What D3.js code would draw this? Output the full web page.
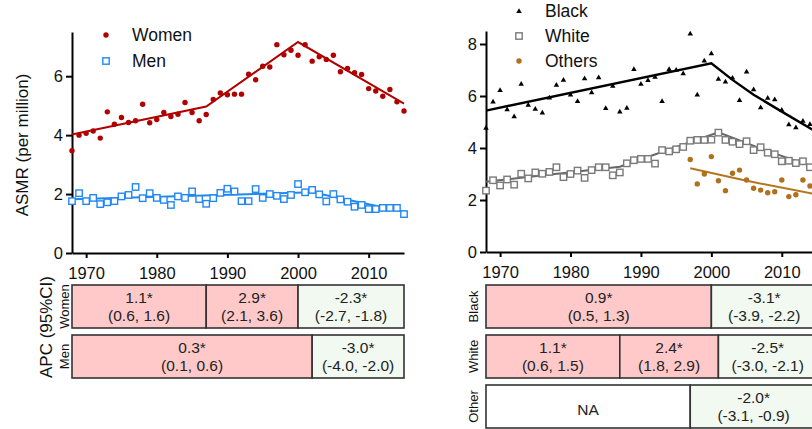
<!DOCTYPE html>
<html>
<head>
<meta charset="utf-8">
<script src="https://cdn.jsdelivr.net/npm/d3@7"></script>
<style>
  body{margin:0;background:#fff;}
  svg{display:block;font-family:"Liberation Sans",Arial,sans-serif;}
</style>
</head>
<body>
<div id="chart"></div>
<script>
// years on the x axis
var years = d3.range(1968, 2016);
var xTicks = [1970, 1980, 1990, 2000, 2010];

// left panel: sex
var women = [3.47,4.00,4.06,4.14,3.90,4.79,4.37,4.60,4.43,4.49,
             5.05,4.42,4.53,4.77,4.63,4.71,5.11,4.77,4.49,4.70,
             5.21,5.43,5.37,5.39,5.39,6.07,5.88,6.34,6.31,7.07,
             6.73,6.88,6.71,7.07,6.51,6.66,6.57,6.71,6.15,6.26,
             6.12,6.06,5.58,5.50,5.32,5.55,5.13,4.82];
var men = [1.76,2.03,1.76,1.87,1.66,1.72,1.76,1.92,1.97,2.24,
           1.86,2.03,1.87,1.80,1.63,1.92,1.87,2.09,1.83,1.67,
           1.86,2.04,2.18,2.09,1.76,1.76,2.17,1.87,2.00,1.94,
           1.83,1.97,2.34,2.06,2.14,1.99,1.75,2.00,1.82,1.74,
           1.57,1.63,1.49,1.49,1.53,1.53,1.53,1.32];
var womenFit = [[1968,4.02],[1987,4.97],[2000,7.16],[2015,5.07]];
var menFit = [[1968,1.82],[2002,2.06],[2015,1.40]];

// right panel: race
var black = [4.78,5.79,6.23,5.49,5.22,6.47,5.67,5.51,5.37,5.95,
             6.44,6.63,6.06,5.81,6.69,6.15,6.72,5.54,6.40,5.41,
             5.55,7.04,6.47,6.62,6.74,5.81,7.04,7.01,6.88,8.41,
             6.06,7.37,7.65,6.67,6.56,6.71,5.85,6.95,6.26,5.57,
             5.94,5.88,5.47,4.92,4.80,5.05,4.93,4.60];
var white = [2.36,2.76,2.56,2.79,2.59,3.01,2.83,3.06,3.01,3.08,
             3.26,2.88,3.00,3.13,2.85,3.15,3.26,3.26,2.95,3.06,
             3.41,3.53,3.58,3.58,3.40,3.92,3.87,3.95,4.04,4.28,
             4.31,4.31,4.32,4.59,4.31,4.24,4.15,4.26,3.92,4.03,
             3.82,3.76,3.49,3.51,3.42,3.49,3.26,3.20];
var otherYears = d3.range(1997, 2016);
var others = [3.56,2.62,3.00,3.67,2.74,2.36,3.03,3.15,2.77,2.45,
              2.38,2.28,2.32,2.77,2.13,2.20,2.77,2.54,2.40];
var blackFit = [[1968,5.44],[2000,7.26],[2003,6.62],[2006,6.05],[2010,5.40],[2015,4.60]];
var whiteFit = [[1968,2.70],[1987,3.28],[2001,4.60],[2008,3.88],[2015,3.23]];
var othersFit = [[1997,3.22],[2005,2.74],[2015,2.21]];

// APC tables: [from, to, estimate, CI, kind]
var womenApc = [[1968,1987,'1.1*','(0.6, 1.6)','up'],[1987,2000,'2.9*','(2.1, 3.6)','up'],[2000,2015,'-2.3*','(-2.7, -1.8)','down']];
var menApc = [[1968,2002,'0.3*','(0.1, 0.6)','up'],[2002,2015,'-3.0*','(-4.0, -2.0)','down']];
var blackApc = [[1968,2000,'0.9*','(0.5, 1.3)','up'],[2000,2015,'-3.1*','(-3.9, -2.2)','down']];
var whiteApc = [[1968,1987,'1.1*','(0.6, 1.5)','up'],[1987,2001,'2.4*','(1.8, 2.9)','up'],[2001,2015,'-2.5*','(-3.0, -2.1)','down']];
var otherApc = [[1968,1997,'NA','','na'],[1997,2015,'-2.0*','(-3.1, -0.9)','down']];

var cellFill = {up:'#ffc9c9', down:'#f1f9f0', na:'#ffffff'};

var svg = d3.select('#chart').append('svg')
  .attr('width', 812).attr('height', 429);

//marker drawers
function dot(g, cx, cy, color){
  g.append('circle').attr('cx',cx).attr('cy',cy).attr('r',2.7).attr('fill',color);
}
function square(g, cx, cy, color){
  g.append('rect').attr('x',cx-3.2).attr('y',cy-3.2).attr('width',6.4).attr('height',6.4)
   .attr('fill','#fff').attr('stroke',color).attr('stroke-width',1.4);
}
function tri(g, cx, cy, color){
  g.append('path').attr('d', d3.symbol(d3.symbolTriangle, 13)())
   .attr('transform','translate('+cx+','+(cy+0.5)+')').attr('fill',color);
}

function drawPanel(p){
  var x = d3.scaleLinear().domain([1968,2015]).range([p.left, p.right]);
  var y = d3.scaleLinear().domain([0,p.yMax]).range([p.bottom, p.top]);

  //axes
  var xa = svg.append('g').attr('transform','translate(0,'+p.bottom+')')
    .call(d3.axisBottom(x).tickValues(xTicks).tickFormat(d3.format('d'))
          .tickSize(5).tickPadding(9).tickSizeOuter(0));
  var ya = svg.append('g').attr('transform','translate('+p.left+',0)')
    .call(d3.axisLeft(y).tickValues(p.yTicks).tickSize(6).tickPadding(3).tickSizeOuter(0));
  [xa, ya].forEach(function(a){
    a.selectAll('path,line').attr('stroke','#000').attr('stroke-width',2);
    a.selectAll('text').attr('fill','#111').style('font-size','16.5px');
  });

  if(p.yLabel){
    svg.append('text').attr('transform','translate(22,145) rotate(-90)')
      .attr('text-anchor','middle').attr('dy','0.35em')
      .style('font-size','17px').attr('fill','#111').text(p.yLabel);
  }

  var line = d3.line().x(function(d){return x(d[0]);}).y(function(d){return y(d[1]);});

  //series: fit line, then points
  p.series.forEach(function(s){
    svg.append('path').datum(s.fit).attr('d',line).attr('fill','none')
      .attr('stroke',s.lineColor).attr('stroke-width',s.lineWidth);
    var g = svg.append('g');
    s.values.forEach(function(v,i){ s.marker(g, x(s.years[i]), y(v), s.color); });
  });

  //legend
  p.series.forEach(function(s,i){
    var ly = p.legendY[i];
    s.marker(svg, p.legendX, ly, s.color);
    svg.append('text').attr('x',p.legendX+26).attr('y',ly).attr('dy','0.35em')
      .style('font-size','17.5px').attr('fill','#111').text(s.name);
  });

  //APC tables
  p.rows.forEach(function(r,i){
    var top = 285 + i*50, h = 43;
    var g = svg.append('g');
    r.cells.forEach(function(c){
      var x0 = x(c[0]), x1 = x(c[1]);
      g.append('rect').attr('x',x0).attr('y',top).attr('width',x1-x0).attr('height',h)
        .attr('fill',cellFill[c[4]]).attr('stroke','#333').attr('stroke-width',1.6);
      var cx = (x0+x1)/2;
      if(c[3]){
        g.append('text').attr('x',cx).attr('y',top+13).attr('dy','0.35em').attr('text-anchor','middle')
          .style('font-size','15.5px').attr('fill','#222').text(c[2]);
        g.append('text').attr('x',cx).attr('y',top+31).attr('dy','0.35em').attr('text-anchor','middle')
          .style('font-size','15.5px').attr('fill','#222').text(c[3]);
      } else {
        g.append('text').attr('x',cx).attr('y',top+h/2+3).attr('dy','0.35em').attr('text-anchor','middle')
          .style('font-size','15.5px').attr('fill','#222').text(c[2]);
      }
    });
    svg.append('text').attr('transform','translate('+p.rowLabelX+','+(top+h/2)+') rotate(-90)')
      .attr('text-anchor','middle').attr('dy','0.35em')
      .style('font-size','13px').attr('fill','#111').text(r.label);
  });
}

drawPanel({
  left:72, right:404, top:32, bottom:253, yMax:7.5, yTicks:[0,2,4,6],
  yLabel:'ASMR (per million)',
  legendX:106, legendY:[35,61], rowLabelX:64,
  series:[
    {name:'Women', years:years, values:women, fit:womenFit, color:'#b00000', lineColor:'#b00000', lineWidth:2, marker:dot},
    {name:'Men', years:years, values:men, fit:menFit, color:'#2288f0', lineColor:'#1f88f0', lineWidth:2, marker:square}
  ],
  rows:[{label:'Women', cells:womenApc},{label:'Men', cells:menApc}]
});

drawPanel({
  left:486, right:817, top:31, bottom:252, yMax:8.5, yTicks:[0,2,4,6,8],
  legendX:519, legendY:[11,36,61], rowLabelX:473,
  series:[
    {name:'Black', years:years, values:black, fit:blackFit, color:'#000', lineColor:'#000', lineWidth:2.4, marker:tri},
    {name:'White', years:years, values:white, fit:whiteFit, color:'#7a7a7a', lineColor:'#666', lineWidth:2, marker:square},
    {name:'Others', years:otherYears, values:others, fit:othersFit, color:'#b0701c', lineColor:'#b3761f', lineWidth:2, marker:dot}
  ],
  rows:[{label:'Black', cells:blackApc},{label:'White', cells:whiteApc},{label:'Other', cells:otherApc}]
});

// shared side label of the left tables
svg.append('text').attr('transform','translate(46,327) rotate(-90)')
  .attr('text-anchor','middle').attr('dy','0.35em')
  .style('font-size','17px').attr('fill','#111').text('APC (95%CI)');
</script>
</body>
</html>
